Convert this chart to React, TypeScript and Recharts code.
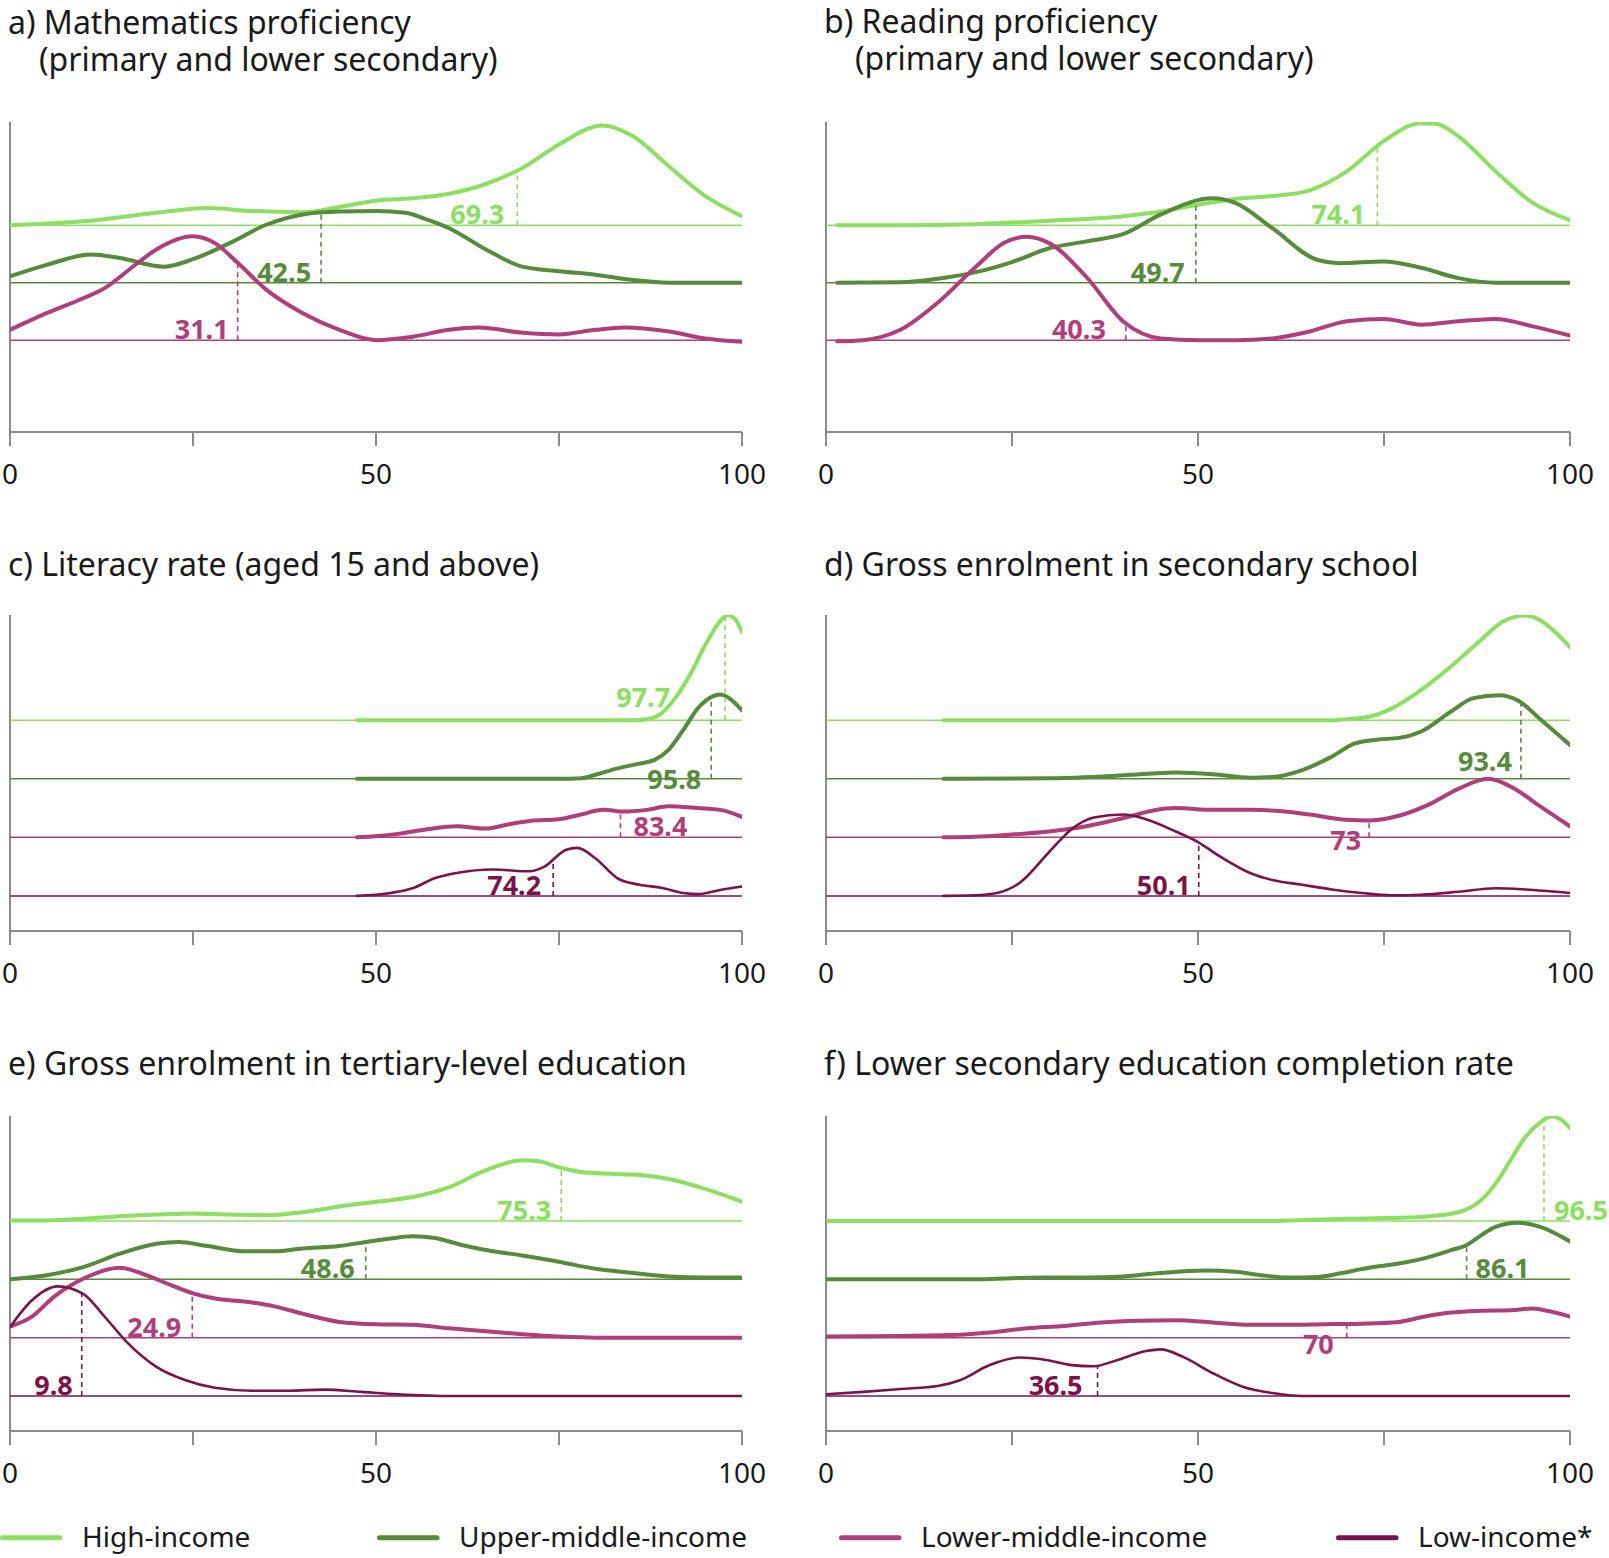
import React from 'react';
import { ComposedChart, Line, XAxis, YAxis, ReferenceLine, ReferenceDot } from 'recharts';

const FONT = '"Noto Sans", "Open Sans", sans-serif';
const TEXT = '#1a1a1a';
const AXIS = '#8c8c8c';

type Pt = [number, number];

const groups = ['High-income', 'Upper-middle-income', 'Lower-middle-income', 'Low-income*'];
const groupColors = ['#8ddf62', '#558b3a', '#b03e7a', '#7a1448'];
const groupWidths = [4, 4, 4, 2.6];
// vertical offset of each ridge (in band units above the x-axis)
const baselineLevels = [3.6, 2.6, 1.6, 0.6];

const xTicks = [0, 25, 50, 75, 100];

// density curves: [score, height above the group's baseline]
const mathHigh: Pt[] = [[0, 0], [10, 0.07], [20, 0.22], [27, 0.3], [33, 0.25], [40, 0.23], [45, 0.32], [50, 0.43], [55, 0.47], [60, 0.55], [65, 0.72], [70, 1.0], [75, 1.41], [81, 1.74], [85, 1.56], [90, 1.03], [95, 0.51], [100, 0.16]];
const mathUpper: Pt[] = [[0, 0.11], [5, 0.31], [11, 0.49], [15, 0.43], [21, 0.28], [25, 0.41], [30, 0.69], [35, 1.01], [40, 1.19], [45, 1.24], [50, 1.25], [54, 1.22], [57, 1.1], [60, 0.95], [65, 0.58], [70, 0.28], [75, 0.2], [80, 0.14], [85, 0.05], [90, 0], [100, 0]];
const mathLower: Pt[] = [[0, 0.18], [5, 0.47], [10, 0.73], [13, 0.91], [17, 1.3], [20, 1.58], [25, 1.81], [28, 1.69], [31, 1.36], [35, 0.88], [40, 0.47], [45, 0.18], [50, 0], [55, 0.06], [60, 0.18], [64, 0.22], [70, 0.13], [75, 0.1], [80, 0.18], [84, 0.22], [90, 0.15], [95, 0.03], [100, -0.03]];
const mathMedians = [69.3, 42.5, 31.1];

const readHigh: Pt[] = [[1.5, 0], [10, 0], [20, 0.02], [30, 0.08], [40, 0.16], [45, 0.24], [50, 0.36], [55, 0.46], [60, 0.51], [65, 0.61], [70, 0.94], [75, 1.47], [80, 1.78], [82, 1.77], [85, 1.55], [90, 0.94], [95, 0.39], [100, 0.09]];
const readUpper: Pt[] = [[1.5, 0], [10, 0.01], [15, 0.07], [20, 0.18], [25, 0.36], [30, 0.6], [35, 0.72], [40, 0.85], [45, 1.19], [52, 1.47], [55, 1.39], [60, 0.95], [66, 0.4], [69, 0.34], [75, 0.37], [80, 0.26], [85, 0.08], [90, 0], [100, 0]];
const readLower: Pt[] = [[1.5, -0.02], [5, 0], [10, 0.18], [15, 0.65], [20, 1.26], [24, 1.7], [27, 1.8], [30, 1.69], [35, 1.1], [40, 0.32], [45, 0.03], [50, 0], [55, 0], [60, 0.03], [65, 0.15], [70, 0.33], [75, 0.37], [80, 0.27], [85, 0.33], [90, 0.37], [95, 0.24], [100, 0.08]];
const readMedians = [74.1, 49.7, 40.3];

const litHigh: Pt[] = [[47.4, 0], [85, 0], [87, 0.02], [89, 0.12], [91, 0.4], [93, 0.8], [95, 1.29], [97, 1.69], [98, 1.8], [99, 1.74], [100, 1.51]];
const litUpper: Pt[] = [[47.4, 0], [75, 0], [78, 0.01], [80, 0.07], [83, 0.18], [86, 0.26], [88, 0.32], [90, 0.5], [92, 0.84], [94, 1.21], [96, 1.41], [97, 1.44], [98, 1.4], [100, 1.17]];
const litLower: Pt[] = [[47.4, 0], [50, 0.02], [53, 0.06], [57, 0.14], [61, 0.19], [65, 0.15], [68, 0.22], [71, 0.28], [75, 0.31], [78, 0.39], [81, 0.47], [84, 0.44], [87, 0.47], [90, 0.53], [94, 0.5], [97, 0.47], [100, 0.35]];
const litLow: Pt[] = [[47.4, 0], [52, 0.05], [55, 0.13], [58, 0.3], [61, 0.39], [66, 0.45], [71, 0.42], [73, 0.5], [76, 0.79], [77.5, 0.82], [80, 0.64], [83, 0.3], [86, 0.19], [89, 0.14], [92, 0.05], [94, 0.03], [97, 0.1], [100, 0.16]];
const litMedians = [97.7, 95.8, 83.4, 74.2];

const secHigh: Pt[] = [[15.8, 0], [68, 0], [70, 0.02], [73, 0.06], [76, 0.2], [80, 0.52], [84, 0.92], [88, 1.37], [91, 1.69], [94, 1.79], [96, 1.71], [98, 1.51], [100, 1.25]];
const secUpper: Pt[] = [[15.8, 0], [30, 0.01], [40, 0.06], [47, 0.11], [52, 0.08], [57, 0.02], [60, 0.03], [64, 0.15], [68, 0.38], [71, 0.6], [74, 0.67], [77, 0.7], [80, 0.81], [84, 1.15], [87, 1.38], [90.5, 1.43], [93, 1.34], [96, 1.02], [100, 0.58]];
const secLower: Pt[] = [[15.8, 0], [20, 0.01], [25, 0.05], [30, 0.1], [35, 0.19], [40, 0.33], [44, 0.46], [47, 0.5], [52, 0.47], [57, 0.47], [61, 0.45], [65, 0.39], [70, 0.3], [73, 0.29], [77, 0.37], [81, 0.56], [85, 0.83], [89, 1.0], [92, 0.87], [96, 0.53], [100, 0.19]];
const secLow: Pt[] = [[15.8, 0], [20, 0.01], [23, 0.05], [26, 0.22], [30, 0.75], [33, 1.14], [36, 1.34], [40, 1.39], [43, 1.31], [47, 1.1], [50, 0.92], [53, 0.67], [57, 0.39], [60, 0.27], [64, 0.19], [68, 0.11], [72, 0.05], [76, 0.01], [80, 0.02], [85, 0.07], [90, 0.13], [94, 0.11], [100, 0.05]];
const secMedians = [93.4, 73, 50.1];

const terHigh: Pt[] = [[0, 0.01], [5, 0.01], [10, 0.04], [15, 0.08], [20, 0.11], [25, 0.13], [30, 0.11], [35, 0.1], [40, 0.15], [45, 0.25], [50, 0.33], [55, 0.41], [60, 0.58], [65, 0.87], [70, 1.04], [72, 1.03], [75, 0.92], [78, 0.84], [82, 0.81], [86, 0.79], [90, 0.72], [95, 0.55], [100, 0.33]];
const terUpper: Pt[] = [[0, 0], [5, 0.07], [10, 0.21], [15, 0.44], [20, 0.61], [23, 0.64], [27, 0.57], [32, 0.48], [36, 0.48], [40, 0.53], [45, 0.57], [48.6, 0.64], [52, 0.7], [55, 0.74], [58, 0.71], [62, 0.58], [66, 0.48], [70, 0.41], [75, 0.3], [80, 0.18], [85, 0.11], [90, 0.05], [95, 0.03], [100, 0.03]];
const terLower: Pt[] = [[0, 0.19], [3, 0.36], [6, 0.7], [10, 1.01], [15, 1.2], [18, 1.1], [22, 0.9], [25, 0.76], [28, 0.67], [32, 0.62], [36, 0.54], [40, 0.41], [45, 0.27], [50, 0.23], [55, 0.22], [60, 0.16], [65, 0.11], [70, 0.06], [75, 0.02], [80, 0], [100, 0]];
const terLow: Pt[] = [[0, 1.18], [3, 1.64], [6.5, 1.88], [10, 1.75], [13, 1.35], [16, 0.92], [20, 0.5], [24, 0.27], [28, 0.14], [33, 0.09], [38, 0.09], [43, 0.11], [48, 0.07], [53, 0.03], [60, 0], [100, 0]];
const terMedians = [75.3, 48.6, 24.9, 9.8];

const compHigh: Pt[] = [[0, 0], [60, 0], [65, 0.02], [70, 0.04], [75, 0.05], [80, 0.07], [85, 0.15], [88, 0.35], [90, 0.64], [92, 1.04], [94, 1.44], [96, 1.69], [97.5, 1.79], [99, 1.72], [100, 1.59]];
const compUpper: Pt[] = [[0, 0], [20, 0], [25, 0.02], [30, 0.03], [35, 0.03], [40, 0.05], [45, 0.11], [51, 0.15], [55, 0.13], [58, 0.08], [62, 0.03], [66, 0.04], [69, 0.1], [73, 0.2], [77, 0.27], [81, 0.38], [84, 0.5], [86, 0.58], [88, 0.75], [90, 0.9], [93, 0.97], [96, 0.9], [100, 0.65]];
const compLower: Pt[] = [[0, 0.02], [10, 0.03], [18, 0.05], [22, 0.09], [27, 0.16], [32, 0.2], [37, 0.26], [42, 0.29], [47, 0.3], [52, 0.26], [57, 0.22], [62, 0.22], [67, 0.23], [72, 0.24], [77, 0.27], [80, 0.35], [84, 0.43], [88, 0.46], [92, 0.47], [95, 0.5], [97, 0.46], [100, 0.36]];
const compLow: Pt[] = [[0, 0.03], [5, 0.07], [10, 0.12], [15, 0.17], [18, 0.27], [22, 0.53], [26, 0.66], [29, 0.63], [33, 0.53], [36, 0.51], [39, 0.61], [43, 0.77], [45, 0.8], [48, 0.67], [52, 0.39], [56, 0.16], [60, 0.05], [64, 0], [100, 0]];
const compMedians = [96.5, 86.1, 70, 36.5];

// where each median label sits relative to its dashed marker (px)
type LabelPos = { dx: number; dy: number; anchor: 'start' | 'end' };
const L = (dx: number, dy = 0): LabelPos => ({ dx, dy, anchor: 'end' });
const R = (dx: number, dy = 0): LabelPos => ({ dx, dy, anchor: 'start' });

interface Panel {
  title: string[];
  curves: Pt[][];
  medians: number[];
  medianGroups: number[];
  labels: LabelPos[];
}

const panels: Panel[] = [
  { title: ['a) Mathematics proficiency', '(primary and lower secondary)'], curves: [mathHigh, mathUpper, mathLower], medians: mathMedians, medianGroups: [0, 1, 2], labels: [L(-13), L(-10), L(-9)] },
  { title: ['b) Reading proficiency', '(primary and lower secondary)'], curves: [readHigh, readUpper, readLower], medians: readMedians, medianGroups: [0, 1, 2], labels: [L(-12), L(-11), L(-20)] },
  { title: ['c) Literacy rate (aged 15 and above)'], curves: [litHigh, litUpper, litLower, litLow], medians: litMedians, medianGroups: [0, 1, 2, 3], labels: [L(-55, -12), L(-10, 11), R(13), L(-12)] },
  { title: ['d) Gross enrolment in secondary school'], curves: [secHigh, secUpper, secLower, secLow], medians: secMedians, medianGroups: [1, 2, 3], labels: [L(-9, -7), L(-8, 14), L(-8)] },
  { title: ['e) Gross enrolment in tertiary-level education'], curves: [terHigh, terUpper, terLower, terLow], medians: terMedians, medianGroups: [0, 1, 2, 3], labels: [L(-10), L(-11), L(-11), L(-9)] },
  { title: ['f) Lower secondary education completion rate'], curves: [compHigh, compUpper, compLower, compLow], medians: compMedians, medianGroups: [0, 1, 2, 3], labels: [R(10), R(9), L(-13, 17), L(-15)] },
];

// height of a curve at x, read along the straight segments between points
function heightAt(pts: Pt[], x: number): number {
  for (let i = 1; i < pts.length; i++) {
    const [x0, y0] = pts[i - 1];
    const [x1, y1] = pts[i];
    if (x >= x0 && x <= x1) return y0 + ((y1 - y0) * (x - x0)) / (x1 - x0);
  }
  return 0;
}

const rows = [
  { top: 100, marginTop: 22, plotH: 310 },
  { top: 590, marginTop: 25, plotH: 316 },
  { top: 1090, marginTop: 26, plotH: 315 },
];
const cols = [
  { left: 0, width: 790, marginLeft: 10, marginRight: 48 },
  { left: 810, width: 799, marginLeft: 16, marginRight: 39 },
];
const X_AXIS_H = 70;

function RidgePanel({ panel, row, col }: { panel: Panel; row: typeof rows[0]; col: typeof cols[0] }) {
  const height = row.marginTop + row.plotH + X_AXIS_H;
  return (
    <div style={{ position: 'absolute', left: col.left, top: row.top }}>
      <ComposedChart
        width={col.width}
        height={height}
        margin={{ top: row.marginTop, right: col.marginRight, bottom: 0, left: col.marginLeft }}
      >
        <XAxis
          type="number"
          dataKey="x"
          domain={[0, 100]}
          ticks={xTicks}
          interval={0}
          allowDataOverflow
          tickFormatter={(v: number) => (v % 50 === 0 ? String(v) : '')}
          axisLine={{ stroke: AXIS, strokeWidth: 2 }}
          tickLine={{ stroke: AXIS, strokeWidth: 2 }}
          tickSize={14}
          tickMargin={18}
          tick={{ fill: TEXT, fontSize: 28, fontFamily: FONT }}
          height={X_AXIS_H}
        />
        <YAxis type="number" domain={[0, 5.4]} allowDataOverflow hide />
        {/* vertical axis line on the left edge */}
        <ReferenceLine x={0} stroke={AXIS} strokeWidth={2} />
        {panel.curves.map((_, i) => (
          <ReferenceLine key={`base-${i}`} y={baselineLevels[i]} stroke={groupColors[i]} strokeWidth={1.5} />
        ))}
        {panel.curves.map((pts, i) => (
          <Line
            key={`curve-${i}`}
            data={pts.map(([x, h]) => ({ x, y: baselineLevels[i] + h }))}
            dataKey="y"
            type="monotone"
            stroke={groupColors[i]}
            strokeWidth={groupWidths[i]}
            strokeLinecap="round"
            dot={false}
            activeDot={false}
            isAnimationActive={false}
          />
        ))}
        {panel.medians.map((m, j) => {
          const g = panel.medianGroups[j];
          const base = baselineLevels[g];
          return (
            <ReferenceLine
              key={`med-${j}`}
              segment={[{ x: m, y: base }, { x: m, y: base + heightAt(panel.curves[g], m) }]}
              stroke={groupColors[g]}
              strokeWidth={1.6}
              strokeDasharray="5 4"
            />
          );
        })}
        {panel.medians.map((m, j) => {
          const g = panel.medianGroups[j];
          const pos = panel.labels[j];
          return (
            <ReferenceDot
              key={`lab-${j}`}
              x={m}
              y={baselineLevels[g]}
              r={0}
              shape={(p: any) => (
                <text
                  x={p.cx + pos.dx}
                  y={p.cy + pos.dy - 1}
                  textAnchor={pos.anchor}
                  fill={groupColors[g]}
                  fontSize={27}
                  fontWeight={700}
                  fontFamily={FONT}
                >
                  {String(m)}
                </text>
              )}
            />
          );
        })}
      </ComposedChart>
    </div>
  );
}

const titleBaselines = [[34, 71], [33, 70], [576], [576], [1075], [1075]];
const titleX = [[8, 39], [824, 855], [8], [824], [8], [824]];
const legendX = [0, 377, 839, 1336];

export default function App() {
  return (
    <div style={{ position: 'absolute', left: 0, top: 0, width: 1609, height: 1558, background: '#fff' }}>
      {panels.map((p, i) => (
        <RidgePanel key={i} panel={p} row={rows[Math.floor(i / 2)]} col={cols[i % 2]} />
      ))}
      <svg width={1609} height={1558} style={{ position: 'absolute', left: 0, top: 0, pointerEvents: 'none' }}>
        {panels.map((p, i) =>
          p.title.map((line, k) => (
            <text key={`t-${i}-${k}`} x={titleX[i][k]} y={titleBaselines[i][k]} fontSize={32} fontFamily={FONT} fill={TEXT}>
              {line}
            </text>
          ))
        )}
        {groups.map((g, i) => (
          <g key={g}>
            <line x1={legendX[i] + 2.5} x2={legendX[i] + 60} y1={1537.7} y2={1537.7} stroke={groupColors[i]} strokeWidth={5} strokeLinecap="round" />
            <text x={legendX[i] + 82} y={1547} fontSize={28} fontFamily={FONT} fill={TEXT}>
              {g}
            </text>
          </g>
        ))}
      </svg>
    </div>
  );
}
